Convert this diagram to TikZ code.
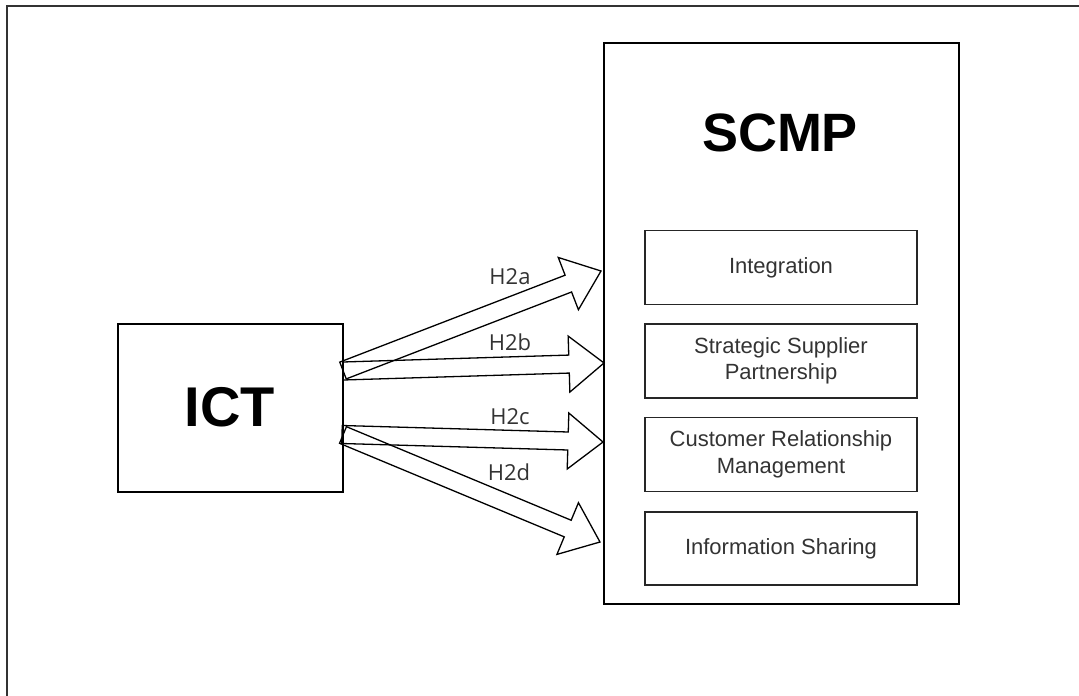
\documentclass[tikz,border=0pt]{standalone}
\usepackage{fontspec}
\setmainfont{Liberation Sans}
\newfontfamily\labelfont{Open Sans}
\usetikzlibrary{calc}

% block arrow from #1 (tail centre) to #2 (tip); #3 names the head base
\newcommand{\blockarrow}[3]{%
  \coordinate (#3) at ($(#2)!35pt!(#1)$);
  \draw[flexline]
    ($(#1)!9pt!90:(#2)$) -- ($(#3)!9pt!90:(#2)$) --
    ($(#3)!28pt!90:(#2)$) -- (#2) --
    ($(#3)!28pt!-90:(#2)$) -- ($(#3)!9pt!-90:(#2)$) --
    ($(#1)!9pt!-90:(#2)$) -- cycle;
}

\begin{document}
\begin{tikzpicture}[x=1pt,y=-1pt,
  frameline/.style={draw=black!80, line width=1.4pt},
  bigbox/.style={draw=black, line width=1.4pt, inner sep=0pt},
  subbox/.style={draw=black!85, line width=1.4pt, inner sep=0pt,
    minimum width=272pt, minimum height=74pt, align=center,
    text=black!80, font=\fontsize{22}{26.5}\selectfont},
  title/.style={font=\fontsize{54}{60}\bfseries\selectfont, text=black},
  hlabel/.style={font=\labelfont\fontsize{22}{24}\selectfont, text=black!80, inner sep=0pt},
  flexline/.style={draw=black, line width=1.3pt, line join=miter}]

\useasboundingbox (0,0) rectangle (1079,696);

% page frame (left and top edges)
\draw[frameline] (7,696) -- (7,6) -- (1079,6);

% ICT block
\node[bigbox, minimum width=225pt, minimum height=168pt] (ict) at (230.5,408) {};
\node[title, font=\fontsize{56}{60}\bfseries\selectfont] (icttitle) at (230,407) {ICT};

% SCMP block with its four constructs
\node[bigbox, minimum width=355pt, minimum height=561pt] (scmp) at (781.5,323.5) {};
\node[title] (scmptitle) at (780,133) {SCMP};
\node[subbox] (integ) at (781,267.5) {Integration};
\node[subbox] (ssp) at (781,361) {Strategic Supplier\\Partnership};
\node[subbox] (crm) at (781,454.5) {Customer Relationship\\Management};
\node[subbox, minimum height=73pt] (isharing) at (781,548.5) {Information Sharing};

% arrow ends on the ICT and SCMP edges
\coordinate (tailA) at (343,370.5);
\coordinate (tipA) at (601,271);
\coordinate (tailB) at (343,371);
\coordinate (tipB) at (604,363);
\coordinate (tailC) at (342,434.5);
\coordinate (tipC) at (603,442);
\coordinate (tailD) at (343,435);
\coordinate (tipD) at (600,542);

\blockarrow{tailA}{tipA}{headA}
\blockarrow{tailB}{tipB}{headB}
\blockarrow{tailC}{tipC}{headC}
\blockarrow{tailD}{tipD}{headD}

% hypothesis labels
\node[hlabel] (lA) at (510,277) {H2a};
\node[hlabel] (lB) at (510,342) {H2b};
\node[hlabel] (lC) at (510,417) {H2c};
\node[hlabel] (lD) at (509,472) {H2d};

\end{tikzpicture}
\end{document}
